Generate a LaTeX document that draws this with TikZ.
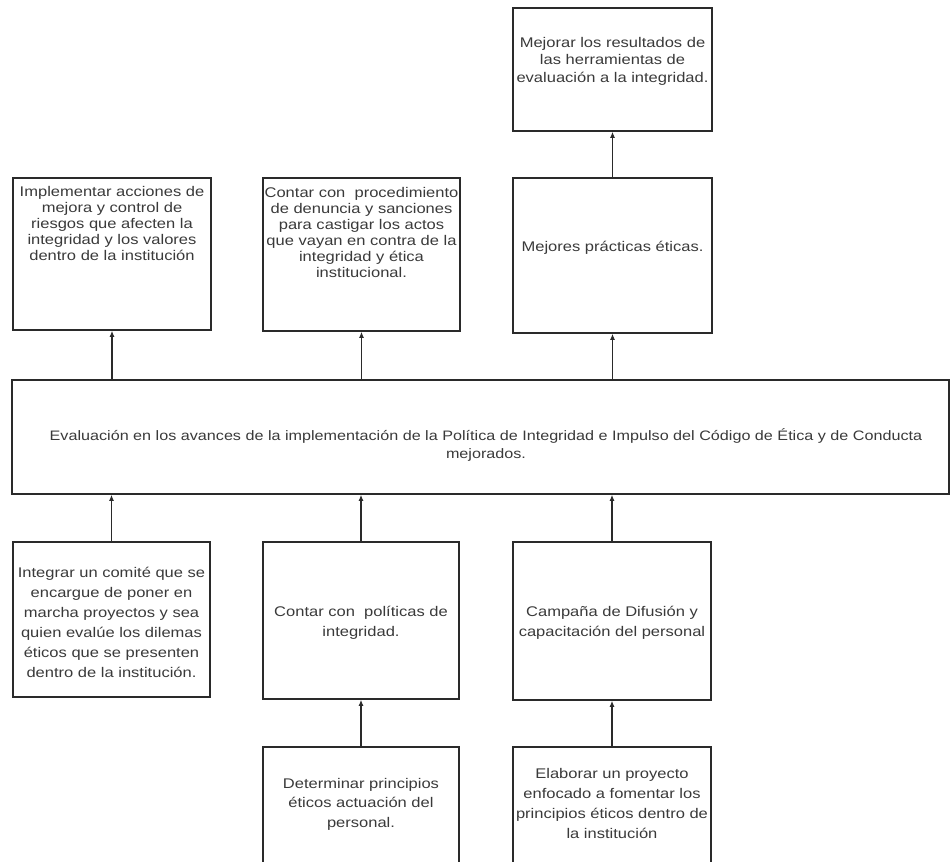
\documentclass[tikz,border=0pt]{standalone}
\usepackage{fontspec}
\setmainfont[FakeStretch=1.18]{Liberation Sans}
\usetikzlibrary{arrows.meta}
\definecolor{ink}{HTML}{2A2A2A}
\definecolor{txtc}{HTML}{3A3A3A}
\tikzset{
  frame/.style={draw=ink, line width=1.5pt, fill=white, inner sep=0pt},
  txt/.style={align=center, inner sep=0pt, text=txtc},
  arr/.style={draw=ink, line width=1.6pt, -{Latex[length=6pt,width=5pt]}},
}
\begin{document}
\begin{tikzpicture}[x=1pt,y=-1pt]
\clip (0,0) rectangle (951,862);
\fill[white] (0,0) rectangle (951,862);
% frames
\node[frame, minimum width=199pt, minimum height=123pt] (t)  at (612.5,69.5) {};
\node[frame, minimum width=198pt, minimum height=152pt] (u1) at (112,254) {};
\node[frame, minimum width=197pt, minimum height=153pt] (u2) at (361.5,254.5) {};
\node[frame, minimum width=199pt, minimum height=155pt] (u3) at (612.5,255.5) {};
\node[frame, minimum width=937pt, minimum height=114pt] (w)  at (480.5,437) {};
\node[frame, minimum width=197pt, minimum height=155pt] (l1) at (111.5,619.5) {};
\node[frame, minimum width=196pt, minimum height=157pt] (l2) at (361,620.5) {};
\node[frame, minimum width=198pt, minimum height=158pt] (l3) at (612,621) {};
\node[frame, minimum width=196pt, minimum height=133pt] (b2) at (361,813.5) {};
\node[frame, minimum width=198pt, minimum height=133pt] (b3) at (612,813.5) {};
% texts
\node[txt, font=\fontsize{14}{17.5}\selectfont] (tt) at (612.5,61) {Mejorar los resultados de\\las herramientas de\\evaluación a la integridad.};
\node[txt, font=\fontsize{14}{16}\selectfont] (u1t) at (112,223) {Implementar acciones de\\mejora y control de\\riesgos que afecten la\\integridad y los valores\\dentro de la institución};
\node[txt, font=\fontsize{14}{16}\selectfont] (u2t) at (361.5,232) {Contar con~ procedimiento\\de denuncia y sanciones\\para castigar los actos\\que vayan en contra de la\\integridad y ética\\institucional.};
\node[txt, font=\fontsize{14}{16}\selectfont] (u3t) at (612.5,248) {Mejores prácticas éticas.};
\node[txt, font=\fontsize{13.7}{18}\selectfont] (wt) at (486,445) {Evaluación en los avances de la implementación de la Política de Integridad e Impulso del Código de Ética y de Conducta\\mejorados.};
\node[txt, font=\fontsize{14}{20}\selectfont] (l1t) at (111.5,622) {Integrar un comité que se\\encargue de poner en\\marcha proyectos y sea\\quien evalúe los dilemas\\éticos que se presenten\\dentro de la institución.};
\node[txt, font=\fontsize{14}{20}\selectfont] (l2t) at (361,623) {Contar con~ políticas de\\integridad.};
\node[txt, font=\fontsize{14}{20}\selectfont] (l3t) at (612,623) {Campaña de Difusión y\\capacitación del personal};
\node[txt, font=\fontsize{14}{19.5}\selectfont] (b2t) at (361,804) {Determinar principios\\éticos actuación del\\personal.};
\node[txt, font=\fontsize{14}{20}\selectfont] (b3t) at (612,803) {Elaborar un proyecto\\enfocado a fomentar los\\principios éticos dentro de\\la institución};
% connectors
\draw[arr] (w.north -| u1.south) -- (u1.south);
\draw[arr] (w.north -| u2.south) -- (u2.south);
\draw[arr] (w.north -| u3.south) -- (u3.south);
\draw[arr] (u3.north) -- (t.south);
\draw[arr] (l1.north) -- (l1.north |- w.south);
\draw[arr] (l2.north) -- (l2.north |- w.south);
\draw[arr] (l3.north) -- (l3.north |- w.south);
\draw[arr] (b2.north) -- (l2.south);
\draw[arr] (b3.north) -- (l3.south);
\end{tikzpicture}
\end{document}
